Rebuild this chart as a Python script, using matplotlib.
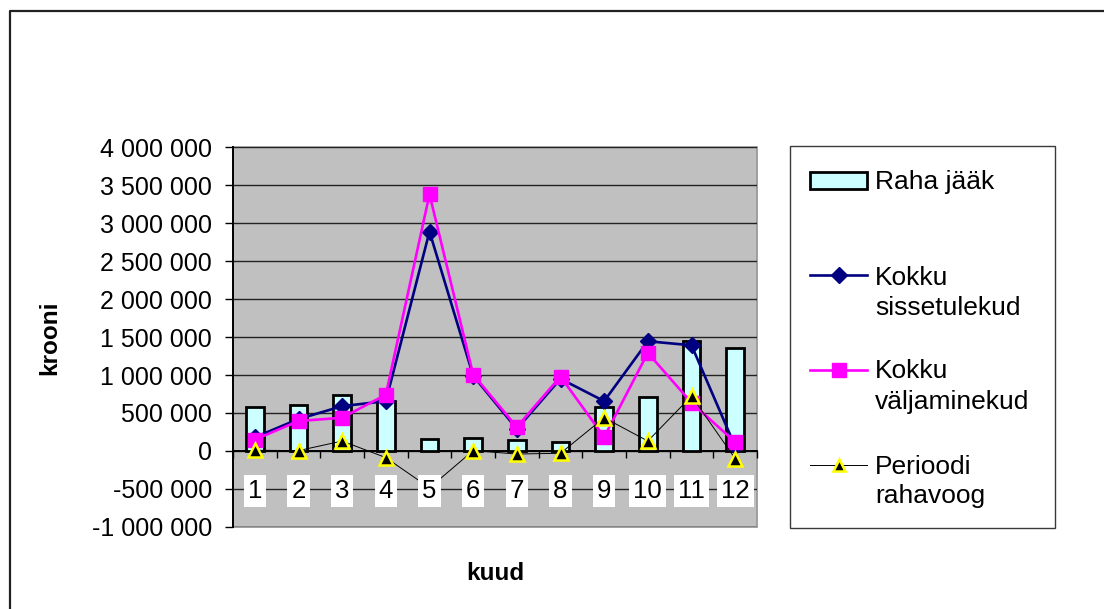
import numpy as np
import matplotlib
matplotlib.use("Agg")
import matplotlib.pyplot as plt
from matplotlib.patches import Rectangle
from matplotlib.lines import Line2D
from matplotlib.ticker import FuncFormatter, MultipleLocator

plt.rcParams['font.family'] = ['Liberation Sans', 'DejaVu Sans']

# Monthly cash figures (krooni)
months = ['1', '2', '3', '4', '5', '6', '7', '8', '9', '10', '11', '12']
raha_jaak = [585000, 604000, 735000, 656000, 163000, 171000, 144000, 123000, 578000, 714000, 1449000, 1361000]
sissetulekud = [180000, 420000, 590000, 656000, 2887000, 990000, 290000, 950000, 656000, 1444000, 1391000, 60000]
valjaminekud = [150000, 394000, 438000, 740000, 3378000, 1006000, 315000, 980000, 184000, 1291000, 635000, 118000]
rahavoog = [10000, 5000, 131000, -87000, -485000, 5000, -40000, -30000, 438000, 131000, 722000, -100000]

W, H = 1104, 609
fig = plt.figure(figsize=(W / 100, H / 100), dpi=100)
fig.patch.set_facecolor('white')

L, R, T, B = 233, 757, 147, 527
ax = fig.add_axes([L / W, 1 - B / H, (R - L) / W, (B - T) / H])
ax.set_facecolor('#C0C0C0')

x = np.arange(1, len(months) + 1)

ax.bar(x, raha_jaak, width=0.41, color='#CCFFFF', edgecolor='black', linewidth=2.0, zorder=2)
ax.plot(x, sissetulekud, color='#000080', lw=1.9, marker='D', ms=8, mfc='#000080', mec='#000080', zorder=3)
ax.plot(x, valjaminekud, color='#FF00FF', lw=1.9, marker='s', ms=10, mfc='#FF00FF', mec='#FF00FF', zorder=4)
ax.plot(x, rahavoog, color='black', lw=0.7, marker='^', ms=10, mfc='black', mec='#FFFF00', mew=1.8, zorder=5)

ax.set_xlim(0.5, 12.5)
ax.set_ylim(-1000000, 4000000)
ax.yaxis.set_major_locator(MultipleLocator(500000))
ax.yaxis.set_major_formatter(FuncFormatter(lambda v, p: f"{v:,.0f}".replace(",", " ")))
ax.yaxis.grid(True, color='#222222', lw=1.0)
ax.set_axisbelow(True)

# category axis crosses at zero, with ticks between months
ax.spines['bottom'].set_position(('data', 0))
ax.spines['bottom'].set_color('black')
ax.spines['bottom'].set_linewidth(1.4)
ax.spines['bottom'].set_zorder(1.5)
ax.spines['top'].set_visible(False)
ax.spines['right'].set_visible(False)
ax.spines['left'].set_color('black')
ax.spines['left'].set_linewidth(1.4)
ax.set_xticks(np.arange(0.5, 13, 1))
ax.set_xticklabels([])
ax.tick_params(axis='x', direction='out', length=5, width=1, color='black')
ax.tick_params(axis='y', direction='out', length=6, width=1, color='black', pad=9, labelsize=18)

ax.add_patch(Rectangle((0, 0), 1, 1, transform=ax.transAxes, fill=False,
                       edgecolor='#9a9a9a', lw=1.3, zorder=0.5, clip_on=False))

for xi, lab in zip(x, months):
    ax.text(xi, -530000, lab, ha='center', va='center', fontsize=18.5, zorder=6,
            bbox=dict(boxstyle='square,pad=0.16', facecolor='white', edgecolor='none'))

fig.text(50 / W, 1 - 338 / H, 'krooni', rotation=90, ha='center', va='center',
         fontsize=17.5, fontweight='bold')
fig.text(495 / W, 1 - 573 / H, 'kuud', ha='center', va='center',
         fontsize=17.5, fontweight='bold')

# overlay in pixel coordinates for the outer frame and the legend
ov = fig.add_axes([0, 0, 1, 1], zorder=10)
ov.set_xlim(0, W)
ov.set_ylim(H, 0)
ov.axis('off')
ov.patch.set_alpha(0)

ov.plot([9.5, 9.5, W], [H, 10.5, 10.5], color='#222222', lw=1.6, solid_capstyle='butt')

ov.add_patch(Rectangle((790, 146), 265, 382, fill=False, edgecolor='#3a3a3a', lw=1.0))

hx0, hx1 = 810, 867
tx = 875
fs = 19
ov.add_patch(Rectangle((hx0, 172), hx1 - hx0, 16.5, facecolor='#CCFFFF', edgecolor='black', lw=2.0))
ov.text(tx, 188.5, 'Raha jääk', fontsize=fs, va='baseline', ha='left')

ov.add_line(Line2D([hx0, hx1], [275, 275], color='#000080', lw=1.9))
ov.plot([(hx0 + hx1) / 2], [275], marker='D', ms=8, color='#000080')
ov.text(tx, 285, 'Kokku', fontsize=fs, va='baseline', ha='left')
ov.text(tx, 315, 'sissetulekud', fontsize=fs, va='baseline', ha='left')

ov.add_line(Line2D([hx0, hx1], [370, 370], color='#FF00FF', lw=1.9))
ov.plot([(hx0 + hx1) / 2], [370], marker='s', ms=10, color='#FF00FF')
ov.text(tx, 378.5, 'Kokku', fontsize=fs, va='baseline', ha='left')
ov.text(tx, 408.5, 'väljaminekud', fontsize=fs, va='baseline', ha='left')

ov.add_line(Line2D([hx0, hx1], [465, 465], color='black', lw=0.7))
ov.plot([(hx0 + hx1) / 2], [465], marker='^', ms=9, mfc='black', mec='#FFFF00', mew=1.8)
ov.text(tx, 473.5, 'Perioodi', fontsize=fs, va='baseline', ha='left')
ov.text(tx, 503.5, 'rahavoog', fontsize=fs, va='baseline', ha='left')

fig.savefig('out.png', dpi=100)
